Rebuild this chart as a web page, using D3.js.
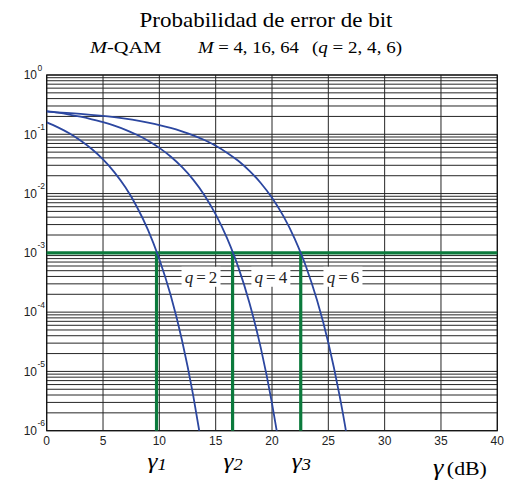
<!DOCTYPE html>
<html>
<head>
<meta charset="utf-8">
<script src="https://cdn.jsdelivr.net/npm/d3@7"></script>
<style>
  html, body { margin: 0; padding: 0; background: #fff; }
  svg { display: block; }
  .serif { font-family: "Liberation Serif", "Times New Roman", serif; }
  .sans { font-family: "Liberation Sans", Arial, sans-serif; }
</style>
</head>
<body>
<script>
// Bit error probability of M-QAM versus SNR per symbol (dB)
const snrQ2 = [0, 1, 2, 3, 4, 5, 6, 7, 8, 9, 10, 11, 12, 13, 13.5, 14];
const berQ2 = [0.159, 0.131, 0.104, 0.0787, 0.0565, 0.0377, 0.0230, 0.0126, 0.0060, 0.00242,
               7.8e-4, 1.94e-4, 3.43e-5, 3.97e-6, 1.11e-6, 2.7e-7];

const snrQ4 = [0, 1, 2, 3, 4, 5, 6, 7, 8, 9, 10, 11, 12, 13, 14, 15, 16, 17, 18, 19, 20, 20.5, 21];
const berQ4 = [0.245, 0.231, 0.215, 0.198, 0.179, 0.160, 0.140, 0.119, 0.098, 0.078, 0.059,
               0.0422, 0.0281, 0.0172, 0.00939, 0.00446, 0.00179, 5.8e-4, 1.43e-4, 2.52e-5,
               2.9e-6, 8.1e-7, 1.96e-7];

const snrQ6 = [0, 3, 6, 9, 10, 11, 12, 13, 14, 15, 16, 17, 18, 19, 20, 21, 22, 23, 24, 25, 26, 26.5, 27];
const berQ6 = [0.241, 0.221, 0.194, 0.157, 0.143, 0.128, 0.112, 0.0961, 0.080, 0.064, 0.049,
               0.0357, 0.0242, 0.0151, 0.0085, 0.0042, 0.00176, 6.0e-4, 1.58e-4, 3.05e-5,
               3.9e-6, 1.17e-6, 3.0e-7];

// Target error rate and the SNR needed for each order
const targetBer = 1e-3;
const gammaReq = [9.75, 16.5, 22.55];
const gammaNames = ["1", "2", "3"];

// Order labels placed under the target line
const qLabels = ["2", "4", "6"];
const qLabelSnr = [13.7, 19.9, 26.3];
const qLabelBer = 3.8e-4;

const xTicks = [0, 5, 10, 15, 20, 25, 30, 35, 40];
const yExponents = [0, -1, -2, -3, -4, -5, -6];

const W = 517, H = 485;
const plot = { left: 46.7, right: 497.3, top: 75, bottom: 430.7 };

const svg = d3.select("body").append("svg").attr("width", W).attr("height", H);

const x = d3.scaleLinear().domain([0, 40]).range([plot.left, plot.right]);
const y = d3.scaleLog().domain([1e-6, 1]).range([plot.bottom, plot.top]);

// Serif text, slightly widened
function serifText(px, py, size, stretch = 1.15) {
  return svg.append("text").attr("class", "serif")
    .attr("transform", `translate(${px},${py}) scale(${stretch},1)`)
    .attr("font-size", size);
}

// Titles
serifText(266, 27, 20).attr("text-anchor", "middle").text("Probabilidad de error de bit");

const s1 = serifText(90, 53, 17, 1.2);
s1.append("tspan").attr("font-style", "italic").text("M");
s1.append("tspan").text("-QAM");
const s2 = serifText(198, 53, 17, 1.1);
s2.append("tspan").attr("font-style", "italic").text("M");
s2.append("tspan").text(" = 4, 16, 64");
const s3 = serifText(312, 53, 17, 1.12);
s3.append("tspan").text("(");
s3.append("tspan").attr("font-style", "italic").text("q");
s3.append("tspan").text(" = 2, 4, 6)");

// Grid
const grid = svg.append("g");
const hLines = [];
for (let e = 0; e >= -6; e--) {
  const base = Math.pow(10, e);
  hLines.push(base);
  if (e > -6) {
    for (let m = 2; m <= 9; m++) hLines.push(m * base / 10);
  }
}
grid.selectAll("line.h").data(hLines).join("line")
  .attr("x1", plot.left).attr("x2", plot.right)
  .attr("y1", d => y(d)).attr("y2", d => y(d))
  .attr("stroke", "#262626").attr("stroke-width", 1);
grid.selectAll("line.v").data(xTicks).join("line")
  .attr("x1", d => x(d)).attr("x2", d => x(d))
  .attr("y1", plot.top).attr("y2", plot.bottom)
  .attr("stroke", "#262626").attr("stroke-width", 1);

// Frame
svg.append("rect")
  .attr("x", plot.left).attr("y", plot.top)
  .attr("width", plot.right - plot.left).attr("height", plot.bottom - plot.top)
  .attr("fill", "none").attr("stroke", "#111").attr("stroke-width", 1.2);

// Axis labels
svg.append("g").selectAll("text").data(xTicks).join("text")
  .attr("class", "sans").attr("font-size", 12).attr("fill", "#222")
  .attr("x", d => x(d)).attr("y", 445).attr("text-anchor", "middle")
  .text(d => d);

const yl = svg.append("g").selectAll("g").data(yExponents).join("g")
  .attr("transform", d => `translate(0,${y(Math.pow(10, d))})`);
yl.append("text").attr("class", "sans").attr("font-size", 12).attr("fill", "#222")
  .attr("x", 37).attr("y", 4.3).attr("text-anchor", "end").text("10");
yl.append("text").attr("class", "sans").attr("font-size", 8.5).attr("fill", "#222")
  .attr("x", 37.5).attr("y", -4.5).text(d => d === 0 ? "0" : "-" + Math.abs(d));

// Clip for curves
svg.append("clipPath").attr("id", "plotclip").append("rect")
  .attr("x", plot.left).attr("y", plot.top)
  .attr("width", plot.right - plot.left).attr("height", plot.bottom - plot.top);

// Target BER line and required SNR markers
const green = "#0b7a3c";
svg.append("line")
  .attr("x1", plot.left).attr("x2", plot.right)
  .attr("y1", y(targetBer)).attr("y2", y(targetBer))
  .attr("stroke", green).attr("stroke-width", 3.2);
svg.append("g").selectAll("line").data(gammaReq).join("line")
  .attr("x1", d => x(d)).attr("x2", d => x(d))
  .attr("y1", y(targetBer)).attr("y2", plot.bottom)
  .attr("stroke", green).attr("stroke-width", 3.2);

// BER curves
const line = d3.line().x(d => x(d[0])).y(d => y(d[1])).curve(d3.curveMonotoneX);
const series = [
  d3.zip(snrQ2, berQ2),
  d3.zip(snrQ4, berQ4),
  d3.zip(snrQ6, berQ6)
];
svg.append("g").attr("clip-path", "url(#plotclip)")
  .selectAll("path").data(series).join("path")
  .attr("d", line).attr("fill", "none")
  .attr("stroke", "#2c47a0").attr("stroke-width", 1.8);

// q labels with white backing
const ql = svg.append("g").selectAll("g").data(qLabels).join("g")
  .attr("transform", (d, i) => `translate(${x(qLabelSnr[i])},${y(qLabelBer)})`);
ql.append("rect").attr("x", -19.5).attr("y", -11).attr("width", 39).attr("height", 20)
  .attr("fill", "#fff");
const qt = ql.append("text").attr("class", "serif").attr("font-size", 17)
  .attr("text-anchor", "middle").attr("y", 5.5).attr("fill", "#222");
qt.append("tspan").attr("font-style", "italic").text("q");
qt.append("tspan").attr("dx", 3).text("=");
qt.append("tspan").attr("dx", 3).text(d => d);

// gamma markers under the axis
gammaReq.forEach((g, i) => {
  const t = serifText(x(g) - 9, 468, 22).attr("font-style", "italic");
  t.append("tspan").text("\u03B3");
  t.append("tspan").attr("font-size", 16).attr("dy", 2).text(gammaNames[i]);
});

const gx = serifText(433, 475, 23);
gx.append("tspan").attr("font-style", "italic").text("\u03B3");
gx.append("tspan").attr("font-size", 19).attr("dx", 3).text("(dB)");
</script>
</body>
</html>
